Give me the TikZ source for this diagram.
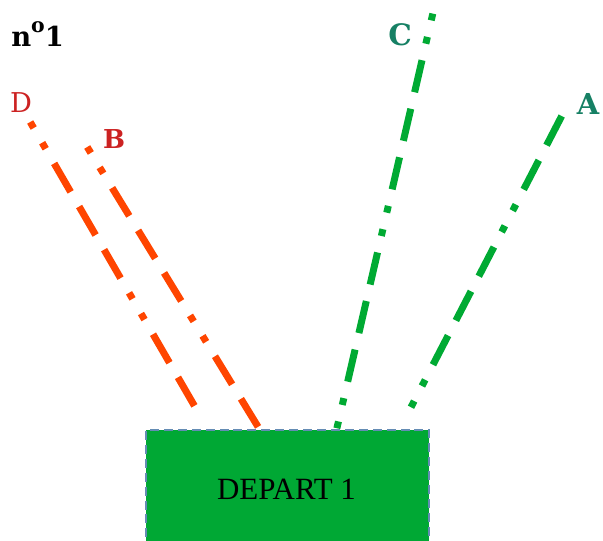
\documentclass[tikz,border=0pt]{standalone}
\usepackage{fontspec}
\setmainfont{Liberation Serif}
\newfontfamily\labelfont{DejaVu Serif}
\usetikzlibrary{positioning}
\definecolor{routeorange}{RGB}{255,69,0}
\definecolor{routegreen}{RGB}{0,170,51}
\definecolor{boxgreen}{RGB}{0,168,52}
\definecolor{labelred}{RGB}{204,34,34}
\definecolor{labelteal}{RGB}{22,128,100}
\definecolor{boxborder}{RGB}{100,140,180}

\begin{document}
\begin{tikzpicture}[x=0.025cm, y=-0.025cm,
    route/.style={line width=4.96pt, dash pattern=on 4.96pt off 12.05pt on 4.96pt off 12.05pt on 23.39pt off 12.05pt on 23.39pt off 12.05pt on 23.39pt off 12.05pt},
    redroute/.style={route, draw=routeorange},
    greenroute/.style={route, draw=routegreen},
    endlabel/.style={inner sep=0pt}]
    \useasboundingbox (0,0) rectangle (603,540);
    \node (title) [anchor=base west, inner sep=0pt, font=\labelfont\fontsize{19.5}{19.5}\selectfont\bfseries] at (11,46) {n{\fontsize{14.5}{14.5}\selectfont\raisebox{9.4pt}{o}}1};
    \node (D) [endlabel, font=\labelfont\fontsize{19.4}{19.4}\selectfont, text=labelred] at (21,103) {D};
    \node (B) [endlabel, font=\labelfont\fontsize{18.5}{18.5}\selectfont\bfseries, text=labelred] at (114,139) {B};
    \node (C) [endlabel, font=\labelfont\fontsize{21}{21}\selectfont\bfseries, text=labelteal] at (400,35) {C};
    \node (A) [endlabel, font=\labelfont\fontsize{20.5}{20.5}\selectfont\bfseries, text=labelteal] at (588,104) {A};
    \coordinate (d-top) at (30.2,122);
    \coordinate (d-foot) at (198,412);
    \coordinate (b-top) at (87.2,147);
    \coordinate (b-foot) at (260,430);
    \coordinate (c-top) at (432.8,13.6);
    \coordinate (c-foot) at (333,445);
    \coordinate (a-top) at (561.7,116);
    \coordinate (a-foot) at (408,413);
    \draw [redroute] (d-top) -- (d-foot);
    \draw [redroute] (b-top) -- (b-foot);
    \draw [greenroute] (c-top) -- (c-foot);
    \draw [greenroute, dash phase=69.45pt] (a-top) -- (a-foot);
    \node (depart) [fill=boxgreen, draw=boxborder, line width=0.8pt, dash pattern=on 6.4pt off 3.5pt, inner sep=0pt, minimum width=7.075cm, minimum height=2.875cm] at (287.5,487.5) {};
    \node (departtext) [inner sep=0pt, font=\fontsize{22}{22}\selectfont] at (286.5,489) {DEPART 1};
\end{tikzpicture}
\end{document}
